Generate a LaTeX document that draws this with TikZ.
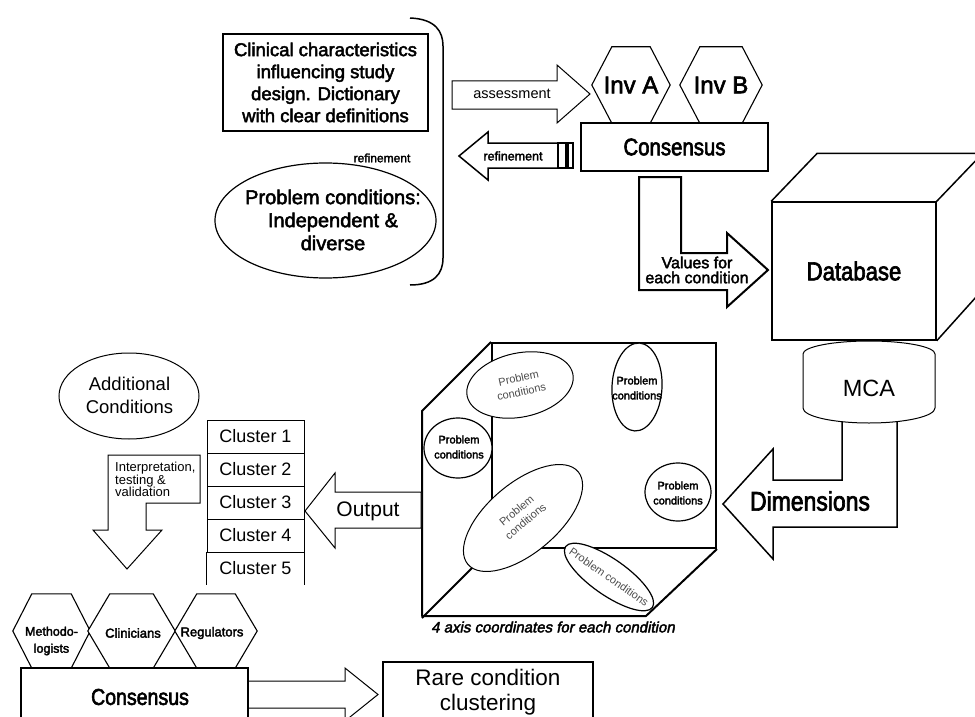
\documentclass[tikz,border=0pt]{standalone}
\usepackage{fontspec}
\setmainfont{Liberation Sans}
\newfontfamily\heavy[FakeBold=2.5]{Liberation Sans}
\newfontfamily\heavyn[FakeBold=2.5,FakeStretch=0.85]{Liberation Sans}
\newfontfamily\heavyit[FakeBold=2.5,FakeSlant=0.2]{Liberation Sans}
\usetikzlibrary{shapes.geometric}
\newcommand\fsz[2]{\fontsize{#1}{#2}\selectfont}
% hexagon outline around a (rectangular, undrawn) node: #1 node name, #2 slant width
\newcommand\hexagonpath[2]{%
  \draw[hexline] (#1.west) -- ([xshift=#2]#1.north west) -- ([xshift=-#2]#1.north east)
    -- (#1.east) -- ([xshift=-#2]#1.south east) -- ([xshift=#2]#1.south west) -- cycle;}

\begin{document}
\begin{tikzpicture}[x=1pt,y=-1pt,
  box/.style={draw, fill=white, line width=1.5pt, inner sep=0pt, align=center},
  hexbox/.style={inner sep=0pt, align=center},
  hexline/.style={draw, fill=white, line width=1.1pt},
  blockarrow/.style={draw, fill=white, line width=1pt},
  oval/.style={ellipse, draw, fill=white, inner sep=0pt, line width=1.2pt},
  txt/.style={inner sep=0pt, align=center},
  greytxt/.style={txt, text=black!70},
]
\fill[white] (0,0) rectangle (975,717);
\useasboundingbox (0,0) rectangle (975,717);
\clip (0,0) rectangle (975,717);

% ---------- definitions and problem conditions ----------
\node[box, line width=2pt, minimum width=205, minimum height=97, font={\heavy\fsz{18.5}{22}}] (clin) at (325.5,82.5)
  {Clinical characteristics\\influencing study\\design. Dictionary\\with clear definitions};
\node[txt, font={\heavy\fsz{12}{12}}] (refsmall) at (382,158) {refinement};
\node[oval, minimum width=221, minimum height=115] (probl) at (325.5,220.5) {};
\node[txt, font={\heavy\fsz{20}{23}}] (probltxt) at (333,220) {Problem conditions:\\Independent \&\\diverse};
\draw[line width=1.5pt] (410,18) .. controls (436,19) and (443,32) .. (443,46)
  -- (443,258) .. controls (443,274) and (434,285) .. (410,285);

% ---------- assessment by two investigators ----------
\draw[blockarrow] (452,81) -- (557,81) -- (557,65) -- (590,94) -- (557,123) -- (557,109) -- (452,109) -- cycle;
\node[txt, font={\fsz{14.5}{14.5}}] (assess) at (512,94) {assessment};

\node[hexbox, minimum width=78, minimum height=76] (invA) at (631,85) {};
\hexagonpath{invA}{20pt}
\node[txt, font={\heavy\fsz{24}{24}}] at (invA) {Inv A};
\node[hexbox, minimum width=82, minimum height=76] (invB) at (721,85) {};
\hexagonpath{invB}{20pt}
\node[txt, font={\heavy\fsz{24}{24}}] at (invB) {Inv B};

\node[box, minimum width=187, minimum height=48, font={\heavyn\fsz{24}{24}}] (cons) at (674.5,147) {Consensus};

% refinement back to the definitions
\draw[blockarrow, line width=1.5pt] (558,143) -- (488,143) -- (488,132) -- (459,156) -- (488,180) -- (488,168) -- (558,168) -- cycle;
\draw[line width=1.5pt] (558,143) rectangle (566,168) (568,143) rectangle (573,168);
\node[txt, font={\heavy\fsz{12.5}{12.5}}] (refarrow) at (513,156) {refinement};

% values into the database
\draw[blockarrow, line width=2pt] (639,177) -- (681,177) -- (681,253) -- (727,253) -- (727,233) -- (768,270)
  -- (727,307) -- (727,290) -- (639,290) -- cycle;
\node[txt, font={\heavy\fsz{16}{15}}] (values) at (697,270) {Values for\\each condition};

% ---------- database cube ----------
\node[box, minimum width=164, minimum height=138, font={\heavyn\fsz{26}{26}}] (db) at (854,271) {Database};
\draw[line width=1.5pt, line join=round] (db.north west) -- ++(46,-48) -- ++(164,0) -- ++(0,138) -- (db.south east)
  (db.north east) -- ++(46,-48);

% dimensions out of the MCA
\draw[blockarrow, line width=1.5pt] (842,415) -- (842,480) -- (773,480) -- (773,449) -- (723,504) -- (773,559)
  -- (773,527) -- (897,527) -- (897,415);
\node[txt, font={\heavyn\fsz{27}{27}}] (dims) at (810,501) {Dimensions};

% MCA cylinder
\draw[line width=1pt, fill=white] (803,354) arc[start angle=180, end angle=360, x radius=66, y radius=13]
  -- (935,408) arc[start angle=0, end angle=180, x radius=66, y radius=15] -- cycle;
\node[txt, font={\fsz{23.5}{23.5}}] (mca) at (869,388) {MCA};

% ---------- four-axis space ----------
\node[draw, line width=2pt, minimum width=224, minimum height=205, inner sep=0pt] (space) at (604,445.5) {};
\draw[line width=2pt, line join=round] (space.north west) -- ++(-69,69) -- ++(0,205) -- ++(224,0) -- (space.south east);
\draw[line width=2pt] (space.south west) -- ++(-69,69);

\node[oval, line width=1pt, minimum width=108, minimum height=64, rotate=12] (pc1) at (520,385) {};
\node[greytxt, rotate=12, font={\fsz{11}{14}}] at (pc1) {Problem\\conditions};
\node[oval, minimum width=50, minimum height=88, rotate=-3] (pc2) at (637,387) {};
\node[txt, font={\heavy\fsz{11}{15}}] at (637,388) {Problem\\conditions};
\node[oval, minimum width=68, minimum height=60] (pc3) at (458,448) {};
\node[txt, font={\heavy\fsz{11}{15}}] at (459,447) {Problem\\conditions};
\node[oval, minimum width=66, minimum height=58] (pc4) at (678,492) {};
\node[txt, font={\heavy\fsz{11}{15}}] at (678,493) {Problem\\conditions};
\node[oval, line width=1pt, minimum width=144, minimum height=70, rotate=40] (pc5) at (523,518) {};
\node[greytxt, rotate=40, font={\fsz{11}{14}}] at (521,516) {Problem\\conditions};
\node[oval, line width=1.2pt, minimum width=106, minimum height=36, rotate=-35] (pc6) at (609,577) {};
\node[greytxt, rotate=-35, font={\fsz{11}{11}}] at (pc6) {Problem conditions};

\node[txt, font={\heavyit\fsz{15}{15}}] (caption) at (553,627) {4 axis coordinates for each condition};

% output to the clusters
\draw[blockarrow] (421,492) -- (335,492) -- (335,473) -- (305,511) -- (335,548) -- (335,528) -- (421,528) -- cycle;
\node[txt, font={\fsz{21}{21}}] (output) at (368,511) {Output};

\foreach \k/\y in {1/436.5, 2/469.5, 3/502.5, 4/535.5} {
  \node[draw, line width=1pt, minimum width=97, minimum height=33, inner sep=0pt, font={\fsz{18}{18}}] (cl\k) at (255.5,\y) {Cluster \k};
}
\node[minimum width=97, minimum height=33, inner sep=0pt, font={\fsz{18}{18}}] (cl5) at (255.5,568.5) {Cluster 5};
\draw[line width=1pt] (cl5.north west) -- (cl5.south west) (cl5.north east) -- (cl5.south east);

% additional conditions and interpretation
\node[oval, line width=1pt, minimum width=140, minimum height=86] (addc) at (129,396) {};
\node[txt, font={\fsz{18.5}{23}}] at (129.5,395) {Additional\\Conditions};

\draw[blockarrow] (108,455) -- (200,455) -- (200,503) -- (146,503) -- (146,530) -- (162,530) -- (127,569)
  -- (93,530) -- (108,530) -- cycle;
\node[inner sep=0pt, align=left, anchor=north west, font={\fsz{13}{12.5}}] (interp) at (115,462)
  {Interpretation,\\testing \&\\validation};

% ---------- final consensus ----------
\node[hexbox, minimum width=77, minimum height=74] (meth) at (51.5,631) {};
\hexagonpath{meth}{19pt}
\node[txt, font={\heavy\fsz{12.5}{17}}] at (51.5,641) {Methodo-\\logists};
\node[hexbox, minimum width=87, minimum height=74] (clinc) at (131.5,631) {};
\hexagonpath{clinc}{22pt}
\node[txt, font={\heavy\fsz{13}{13}}] at (133,633) {Clinicians};
\node[hexbox, minimum width=82, minimum height=74] (regu) at (216,631) {};
\hexagonpath{regu}{22pt}
\node[txt, font={\heavy\fsz{13}{13}}] at (212,633) {Regulators};

\draw[blockarrow] (248,681) -- (345,681) -- (345,668) -- (378,694.5) -- (345,721) -- (345,708) -- (248,708);
\node[box, minimum width=227, minimum height=72] (cons2) at (134.5,704) {};
\node[txt, font={\heavyn\fsz{23}{23}}] at (140,697) {Consensus};

\node[box, minimum width=210, minimum height=78] (rare) at (488,701) {};
\node[txt, font={\fsz{22.5}{25}}] at (488,692) {Rare condition\\clustering};
\end{tikzpicture}
\end{document}
